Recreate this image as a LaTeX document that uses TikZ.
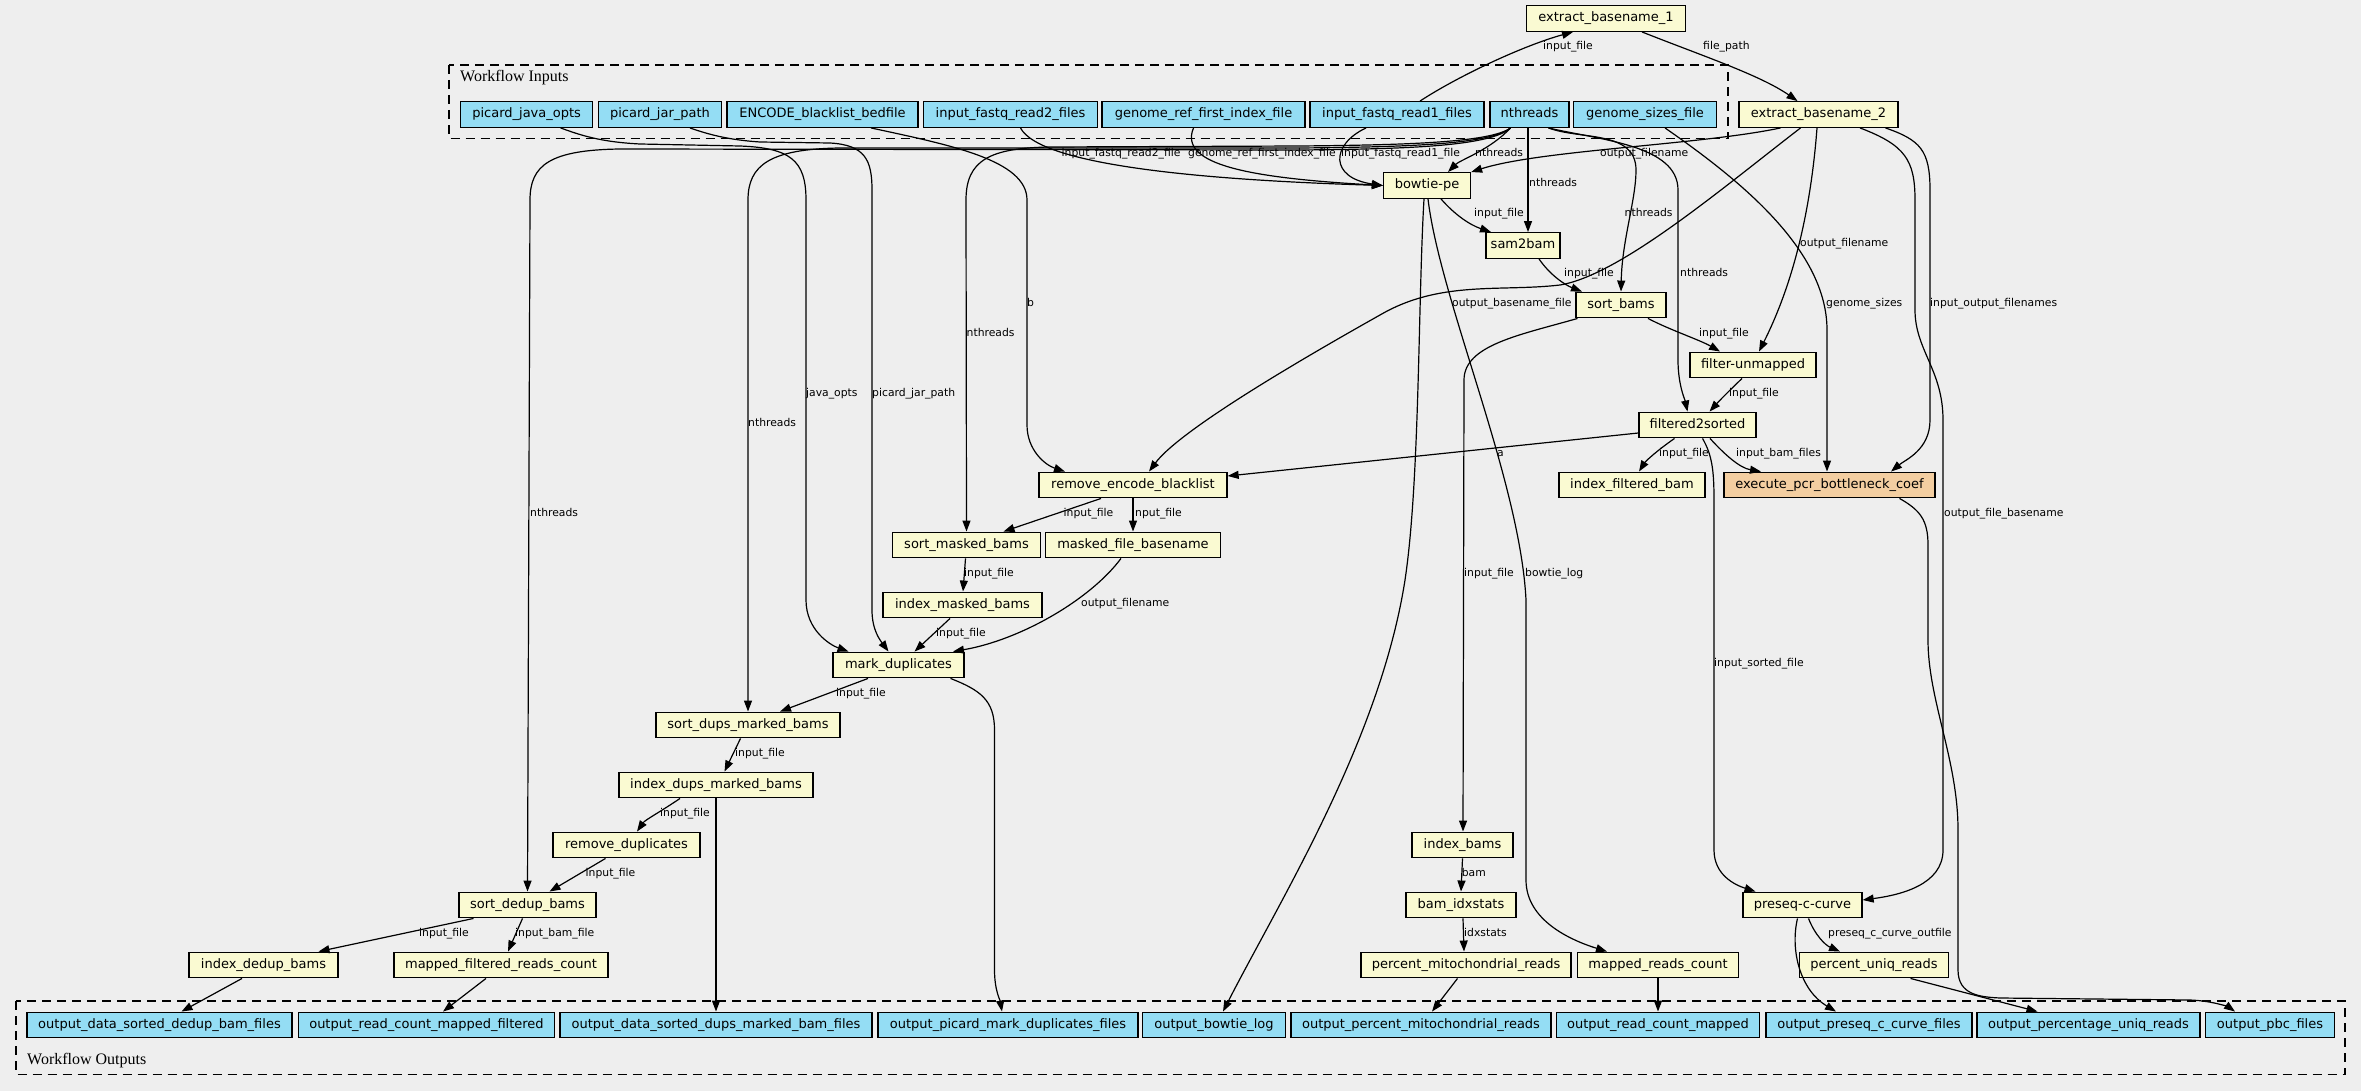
\documentclass[tikz,border=0pt]{standalone}
\usepackage{fontspec}
\usetikzlibrary{arrows.meta}
\newfontfamily\dvsans{DejaVu Sans}
\newfontfamily\lserif{Liberation Serif}
\definecolor{bgc}{HTML}{EEEEEE}
\definecolor{inblue}{HTML}{94DDF4}
\definecolor{stepy}{HTML}{FAFAD2}
\definecolor{orng}{HTML}{F3CEA1}
\begin{document}
\begin{tikzpicture}[x=1pt,y=-1pt,
  inbox/.style={draw=black, line width=1.3pt, fill=inblue, minimum height=25.6pt, inner sep=0pt,
     font=\dvsans\fontsize{13}{15}\selectfont, text height=9.6pt, text depth=3pt},
  stepbox/.style={inbox, fill=stepy},
  wfbox/.style={inbox, fill=orng},
  edge/.style={line width=1.2pt, -{Triangle[length=11pt,width=8pt]}},
  lbl/.style={font=\dvsans\fontsize{10.8}{12}\selectfont, inner sep=0pt, anchor=west, text height=8pt, text depth=2.5pt},
  cluster/.style={draw=black, line width=1.3pt, dash pattern=on 9pt off 6pt},
  ttl/.style={font=\lserif\fontsize{16}{18}\selectfont, inner sep=0pt, anchor=west}
]
\useasboundingbox (0,0) rectangle (2361,1091);
\fill[bgc] (0,0) rectangle (2361,1091);

% clusters
\draw[cluster] (449,65) rectangle (1728,138.3);
\node[ttl] (tin) at (460,78) {Workflow Inputs};
\draw[cluster] (16,1001) rectangle (2345,1074.3);
\node[ttl] (tout) at (27,1061) {Workflow Outputs};

% inputs
\node[inbox, minimum width=132pt] (pjo) at (526.6,114.5) {picard\_java\_opts};
\node[inbox, minimum width=123pt] (pjp) at (660,114.5) {picard\_jar\_path};
\node[inbox, minimum width=191pt] (encode) at (822.5,114.5) {ENCODE\_blacklist\_bedfile};
\node[inbox, minimum width=174pt] (r2) at (1010.5,114.5) {input\_fastq\_read2\_files};
\node[inbox, minimum width=203pt] (gref) at (1203.5,114.5) {genome\_ref\_first\_index\_file};
\node[inbox, minimum width=174pt] (r1) at (1397,114.5) {input\_fastq\_read1\_files};
\node[inbox, minimum width=79pt] (nth) at (1529.5,114.5) {nthreads};
\node[inbox, minimum width=143pt] (gsz) at (1645,114.5) {genome\_sizes\_file};

% steps
\node[stepbox, minimum width=159pt] (eb1) at (1606,18.5) {extract\_basename\_1};
\node[stepbox, minimum width=159pt] (eb2) at (1818.5,114.5) {extract\_basename\_2};
\node[stepbox, minimum width=87pt] (bow) at (1427,185.5) {bowtie-pe};
\node[stepbox, minimum width=74pt] (s2b) at (1523,245.5) {sam2bam};
\node[stepbox, minimum width=90pt] (sb) at (1621,305) {sort\_bams};
\node[stepbox, minimum width=126pt] (fu) at (1753,365) {filter-unmapped};
\node[stepbox, minimum width=117pt] (f2s) at (1697.5,425) {filtered2sorted};
\node[stepbox, minimum width=188pt] (reb) at (1133,485) {remove\_encode\_blacklist};
\node[stepbox, minimum width=146pt] (ifb) at (1632,485) {index\_filtered\_bam};
\node[wfbox, minimum width=211pt] (pcr) at (1829.5,485) {execute\_pcr\_bottleneck\_coef};
\node[stepbox, minimum width=148pt] (smb) at (966.5,545) {sort\_masked\_bams};
\node[stepbox, minimum width=175pt] (mfb) at (1133,545) {masked\_file\_basename};
\node[stepbox, minimum width=159pt] (imb) at (962.5,605) {index\_masked\_bams};
\node[stepbox, minimum width=131pt] (md) at (898.5,665) {mark\_duplicates};
\node[stepbox, minimum width=184pt] (sdm) at (748,725) {sort\_dups\_marked\_bams};
\node[stepbox, minimum width=194pt] (idm) at (716,785) {index\_dups\_marked\_bams};
\node[stepbox, minimum width=147pt] (rd) at (626.5,845) {remove\_duplicates};
\node[stepbox, minimum width=137pt] (sdd) at (527.5,905) {sort\_dedup\_bams};
\node[stepbox, minimum width=149pt] (idd) at (263.5,965) {index\_dedup\_bams};
\node[stepbox, minimum width=214pt] (mfrc) at (501,965) {mapped\_filtered\_reads\_count};
\node[stepbox, minimum width=101pt] (ib) at (1462.5,845) {index\_bams};
\node[stepbox, minimum width=110pt] (bis) at (1461,905) {bam\_idxstats};
\node[stepbox, minimum width=210pt] (pmr) at (1466,965) {percent\_mitochondrial\_reads};
\node[stepbox, minimum width=161pt] (mrc) at (1658,965) {mapped\_reads\_count};
\node[stepbox, minimum width=119pt] (pcc) at (1802.5,905) {preseq-c-curve};
\node[stepbox, minimum width=149pt] (pur) at (1874,965) {percent\_uniq\_reads};

% outputs
\node[inbox, minimum width=265pt] (o1) at (159.5,1025) {output\_data\_sorted\_dedup\_bam\_files};
\node[inbox, minimum width=256pt] (o2) at (426.5,1025) {output\_read\_count\_mapped\_filtered};
\node[inbox, minimum width=312pt] (o3) at (716,1025) {output\_data\_sorted\_dups\_marked\_bam\_files};
\node[inbox, minimum width=260pt] (o4) at (1008,1025) {output\_picard\_mark\_duplicates\_files};
\node[inbox, minimum width=143pt] (o5) at (1214,1025) {output\_bowtie\_log};
\node[inbox, minimum width=260pt] (o6) at (1421,1025) {output\_percent\_mitochondrial\_reads};
\node[inbox, minimum width=203pt] (o7) at (1658,1025) {output\_read\_count\_mapped};
\node[inbox, minimum width=206pt] (o8) at (1869,1025) {output\_preseq\_c\_curve\_files};
\node[inbox, minimum width=223pt] (o9) at (2088.5,1025) {output\_percentage\_uniq\_reads};
\node[inbox, minimum width=129pt] (o10) at (2270,1025) {output\_pbc\_files};

% edges
\draw[edge] ([xshift=23pt]r1.north) .. controls (1460,75) and (1525,45) .. ([xshift=-33pt]eb1.south);
\draw[edge] ([xshift=36pt]eb1.south) .. controls (1700,55) and (1760,75) .. ([xshift=-21pt]eb2.north);
\draw[edge] ([xshift=10pt]r2.south) .. controls (1040,165) and (1200,180) .. (bow.west);
\draw[edge] ([xshift=-10pt]gref.south) .. controls (1178,165) and (1250,178) .. (bow.west);
\draw[edge] ([xshift=-31pt]r1.south) .. controls (1330,145) and (1330,178) .. (bow.west);
\draw[edge] ([xshift=-19pt]nth.south) .. controls (1490,150) and (1460,160) .. ([xshift=21pt]bow.north);
\draw[edge] ([xshift=-38pt]eb2.south) .. controls (1700,145) and (1540,150) .. (bow.north east);
\draw[edge] ([xshift=-1.5pt]nth.south) -- ([xshift=5pt]s2b.north);
\draw[edge] ([xshift=14pt]bow.south) .. controls (1455,215) and (1470,225) .. ([xshift=-32pt]s2b.north);
\draw[edge] ([xshift=16pt]s2b.south) .. controls (1550,275) and (1565,285) .. ([xshift=-39pt]sb.north);
\draw[edge] ([xshift=19pt]nth.south) .. controls (1580,140) and (1636,130) .. (1636,170) .. controls (1636,200) and (1622,240) .. (sb.north);
\draw[edge] ([xshift=19pt]nth.south) .. controls (1600,140) and (1678,145) .. (1678,190) -- (1678,360) .. controls (1678,385) and (1685,400) .. ([xshift=-10pt]f2s.north);
\draw[edge] ([xshift=-18pt]eb2.south) .. controls (1720,190) and (1620,275) .. (1560,285) .. controls (1500,292) and (1440,280) .. (1380,315) .. controls (1300,360) and (1180,430) .. ([xshift=16pt]reb.north);
\draw[edge] ([xshift=27pt]sb.south) .. controls (1670,330) and (1700,340) .. ([xshift=-33pt]fu.north);
\draw[edge] ([xshift=-1.5pt]eb2.south) .. controls (1810,220) and (1790,290) .. ([xshift=6pt]fu.north);
\draw[edge] ([xshift=-11pt]fu.south) .. controls (1730,390) and (1720,400) .. ([xshift=12pt]f2s.north);
\draw[edge] ([xshift=20pt]gsz.south) .. controls (1740,180) and (1827,250) .. (1827,330) -- ([xshift=-2.5pt]pcr.north);
\draw[edge] ([xshift=67pt]eb2.south) .. controls (1920,140) and (1930,150) .. (1930,190) -- (1930,420) .. controls (1930,450) and (1905,460) .. ([xshift=61.5pt]pcr.north);
\draw[edge] ([xshift=41.5pt]eb2.south) .. controls (1905,145) and (1915,160) .. (1915,200) -- (1915,310) .. controls (1915,350) and (1943,370) .. (1943,420) -- (1943,850) .. controls (1943,885) and (1900,895) .. ([yshift=5pt]pcc.east);
\draw[edge] ([xshift=70pt]pcr.south) .. controls (1920,510) and (1928,520) .. (1928,545) -- (1928,640) .. controls (1928,700) and (1958,760) .. (1958,830) -- (1958,970) .. controls (1958,995) and (1980,997) .. (2000,998) -- (2190,1000) .. controls (2215,1001) and (2230,1008) .. ([xshift=-35pt]o10.north);
\draw[edge] ([xshift=5pt]f2s.south) .. controls (1712,455) and (1714,470) .. (1714,500) -- (1714,850) .. controls (1714,875) and (1735,885) .. ([xshift=-47pt]pcc.north);
\draw[edge] ([xshift=12.5pt]f2s.south) .. controls (1725,455) and (1740,468) .. ([xshift=-68.5pt]pcr.north);
\draw[edge] ([xshift=-23pt]f2s.south) .. controls (1655,452) and (1645,462) .. ([xshift=7pt]ifb.north);
\draw[edge] ([yshift=-8pt]f2s.west) -- ([yshift=9pt]reb.east);
\draw[edge] ([xshift=48.5pt]encode.south) .. controls (950,145) and (1027,160) .. (1027,200) -- (1027,425) .. controls (1027,450) and (1045,465) .. ([xshift=-68pt]reb.north);
\draw[edge] ([xshift=-19pt]nth.south) .. controls (1490,143) and (1400,145) .. (1300,146) -- (1050,147) .. controls (990,148) and (966,160) .. (966,200) -- (smb.north);
\draw[edge] ([xshift=-19pt]nth.south) .. controls (1490,145) and (1400,147) .. (1300,148) -- (840,148) .. controls (770,149) and (748,165) .. (748,200) -- (sdm.north);
\draw[edge] ([xshift=-19pt]nth.south) .. controls (1490,147) and (1400,149) .. (1300,150) -- (620,149) .. controls (550,150) and (530,165) .. (530,200) -- (sdd.north);
\draw[edge] ([xshift=34pt]pjo.south) .. controls (580,135) and (600,142) .. (640,144) -- (740,146) .. controls (790,148) and (806,160) .. (806,200) -- (806,600) .. controls (806,630) and (830,645) .. ([xshift=-50pt]md.north);
\draw[edge] ([xshift=30pt]pjp.south) .. controls (710,135) and (730,140) .. (760,142) -- (830,143) .. controls (865,145) and (872,160) .. (872,190) -- (872,610) .. controls (872,630) and (880,640) .. ([xshift=-10pt]md.north);
\draw[edge] ([xshift=-32pt]reb.south) -- ([xshift=37pt]smb.north);
\draw[edge] (reb.south) -- (mfb.north);
\draw[edge] ([xshift=-1pt]smb.south) -- ([xshift=0.5pt]imb.north);
\draw[edge] ([xshift=-12.5pt]imb.south) -- ([xshift=16pt]md.north);
\draw[edge] ([xshift=-12pt]mfb.south) .. controls (1090,600) and (1020,640) .. ([xshift=54.5pt]md.north);
\draw[edge] ([xshift=-30.5pt]md.south) -- ([xshift=32pt]sdm.north);
\draw[edge] ([xshift=52pt]md.south) .. controls (980,690) and (994.5,700) .. (994.5,730) -- (994.5,970) .. controls (994.5,990) and (1000,1000) .. ([xshift=-6pt]o4.north);
\draw[edge] ([xshift=-7.5pt]sdm.south) -- ([xshift=8.5pt]idm.north);
\draw[edge] ([xshift=-36pt]idm.south) .. controls (660,812) and (645,820) .. ([xshift=10.5pt]rd.north);
\draw[edge] (idm.south) -- (o3.north);
\draw[edge] ([xshift=-21pt]rd.south) -- ([xshift=22pt]sdd.north);
\draw[edge] ([xshift=-54pt]sdd.south) -- ([xshift=55pt]idd.north);
\draw[edge] ([xshift=-5pt]sdd.south) -- ([xshift=7pt]mfrc.north);
\draw[edge] ([xshift=-21.5pt]idd.south) -- ([xshift=22pt]o1.north);
\draw[edge] ([xshift=-15pt]mfrc.south) -- ([xshift=16.5pt]o2.north);
\draw[edge] ([xshift=-3pt]bow.south) .. controls (1418,300) and (1420,480) .. (1405,580) .. controls (1380,740) and (1280,900) .. ([xshift=9pt]o5.north);
\draw[edge] ([xshift=1pt]bow.south) .. controls (1440,300) and (1520,480) .. (1526,600) -- (1526,880) .. controls (1526,920) and (1570,940) .. ([xshift=-51pt]mrc.north);
\draw[edge] ([xshift=-43.5pt]sb.south) .. controls (1520,335) and (1464,345) .. (1464,380) -- ([xshift=0.5pt]ib.north);
\draw[edge] (ib.south) -- (bis.north);
\draw[edge] ([xshift=2pt]bis.south) -- ([xshift=-2pt]pmr.north);
\draw[edge] ([xshift=-8.5pt]pmr.south) -- ([xshift=11pt]o6.north);
\draw[edge] (mrc.south) -- (o7.north);
\draw[edge] ([xshift=6pt]pcc.south) .. controls (1815,935) and (1825,945) .. ([xshift=-34pt]pur.north);
\draw[edge] ([xshift=-5pt]pcc.south) .. controls (1790,950) and (1800,990) .. ([xshift=-33pt]o8.north);
\draw[edge] ([xshift=36.5pt]pur.south) -- ([xshift=-51pt]o9.north);

% labels
\node[lbl] (l1) at (1543,47) {input\_file};
\node[lbl] (l2) at (1703,47) {file\_path};
\node[lbl] (l3) at (1061.5,154) {input\_fastq\_read2\_file};
\node[lbl] (l4) at (1188,154) {genome\_ref\_first\_index\_file};
\node[lbl] (l5) at (1341,154) {input\_fastq\_read1\_file};
\node[lbl] (l6) at (1475,154) {nthreads};
\node[lbl] (l7) at (1600,154) {output\_filename};
\node[lbl] (l8) at (1529,184) {nthreads};
\node[lbl] (l9) at (1474,214) {input\_file};
\node[lbl] (l10) at (1624.5,214) {nthreads};
\node[lbl] (l11) at (1564,274) {input\_file};
\node[lbl] (l12) at (1680,274) {nthreads};
\node[lbl] (l13) at (1452,304) {output\_basename\_file};
\node[lbl] (l14) at (1027,304) {b};
\node[lbl] (l15) at (1826,304) {genome\_sizes};
\node[lbl] (l16) at (1930,304) {input\_output\_filenames};
\node[lbl] (l17) at (966.5,334) {nthreads};
\node[lbl] (l18) at (1699,334) {input\_file};
\node[lbl] (l19) at (1800,244) {output\_filename};
\node[lbl] (l20) at (806,394) {java\_opts};
\node[lbl] (l21) at (872,394) {picard\_jar\_path};
\node[lbl] (l22) at (1729,394) {input\_file};
\node[lbl] (l23) at (748,424) {nthreads};
\node[lbl] (l24) at (1497,454) {a};
\node[lbl] (l25) at (1659,454) {input\_file};
\node[lbl] (l26) at (1736,454) {input\_bam\_files};
\node[lbl] (l27) at (530,514) {nthreads};
\node[lbl] (l28) at (1063.5,514) {input\_file};
\node[lbl] (l29) at (1132,514) {input\_file};
\node[lbl] (l30) at (1944,514) {output\_file\_basename};
\node[lbl] (l31) at (964,574) {input\_file};
\node[lbl] (l32) at (1464,574) {input\_file};
\node[lbl] (l33) at (1525,574) {bowtie\_log};
\node[lbl] (l34) at (1081,604) {output\_filename};
\node[lbl] (l35) at (936,634) {input\_file};
\node[lbl] (l36) at (1714,664) {input\_sorted\_file};
\node[lbl] (l37) at (836,694) {input\_file};
\node[lbl] (l38) at (735,754) {input\_file};
\node[lbl] (l39) at (660,814) {input\_file};
\node[lbl] (l40) at (585.5,874) {input\_file};
\node[lbl] (l41) at (1461.6,874) {bam};
\node[lbl] (l42) at (419,934) {input\_file};
\node[lbl] (l43) at (515,934) {input\_bam\_file};
\node[lbl] (l44) at (1464,934) {idxstats};
\node[lbl] (l45) at (1828,934) {preseq\_c\_curve\_outfile};
\end{tikzpicture}
\end{document}
